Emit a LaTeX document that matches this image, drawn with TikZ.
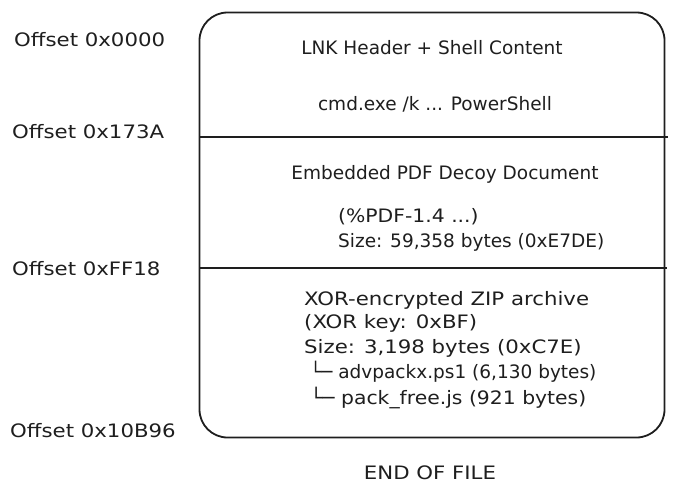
\documentclass[tikz,border=0pt]{standalone}
\usepackage{fontspec}
\setmainfont{DejaVu Sans}
\newfontfamily\wideA[FakeStretch=1.15]{DejaVu Sans}
\newfontfamily\wideB[FakeStretch=1.10]{DejaVu Sans}
\definecolor{ink}{HTML}{1E1E1E}
\tikzset{
  lbl/.style={text=ink, font=\fontsize{18.5}{22}\selectfont, inner sep=0pt, anchor=base west},
  ctr/.style={text=ink, font=\fontsize{18.5}{22}\selectfont, inner sep=0pt, anchor=base},
  frame/.style={draw=ink, line width=1.8pt, rounded corners=28pt, inner sep=0pt, outer sep=0pt},
  divider/.style={draw=ink, line width=1.8pt}
}
\begin{document}
\begin{tikzpicture}[x=1pt,y=-1pt]
\useasboundingbox (0,0) rectangle (676,495);
\node[frame, minimum width=465pt, minimum height=425pt] (box) at (432,225) {};
\coordinate (d1l) at (200,137);
\coordinate (d1r) at (668,137);
\coordinate (d2l) at (200,268);
\coordinate (d2r) at (667,268);
\draw[divider] (d1l) -- (d1r);
\draw[divider] (d2l) -- (d2r);
% offsets
\node[lbl] (o1) at (14,47) {\wideA Offset 0x0000};
\node[lbl] (o2) at (12,138) {\wideA Offset 0x173A};
\node[lbl] (o3) at (12,275) {\wideA Offset 0xFF18};
\node[lbl] (o4) at (10,437) {\wideA Offset 0x10B96};
% section 1
\node[ctr] (t1) at (432,55) {LNK Header + Shell Content};
\node[ctr] (t2) at (435,110) {cmd.exe /k ... PowerShell};
% section 2
\node[ctr] (t3) at (445,179) {Embedded PDF Decoy Document};
\node[lbl] (t4) at (338,222) {\wideB(\%PDF-1.4 ...)};
\node[lbl] (t5) at (338,247) {Size: 59,358 bytes (0xE7DE)};
% section 3
\node[lbl] (t6) at (304,305) {\wideA XOR-encrypted ZIP archive};
\node[lbl] (t7) at (304,328) {\wideA(XOR key: 0xBF)};
\node[lbl] (t8) at (304,353) {\wideA Size: 3,198 bytes (0xC7E)};
\node[lbl] (t9) at (310,378) {└─ advpackx.ps1 (6,130 bytes)};
\node[lbl] (t10) at (310,404) {\wideB└─ pack\_free.js (921 bytes)};
% end
\node[ctr] (eof) at (430,479) {\wideA END OF FILE};
\end{tikzpicture}
\end{document}
